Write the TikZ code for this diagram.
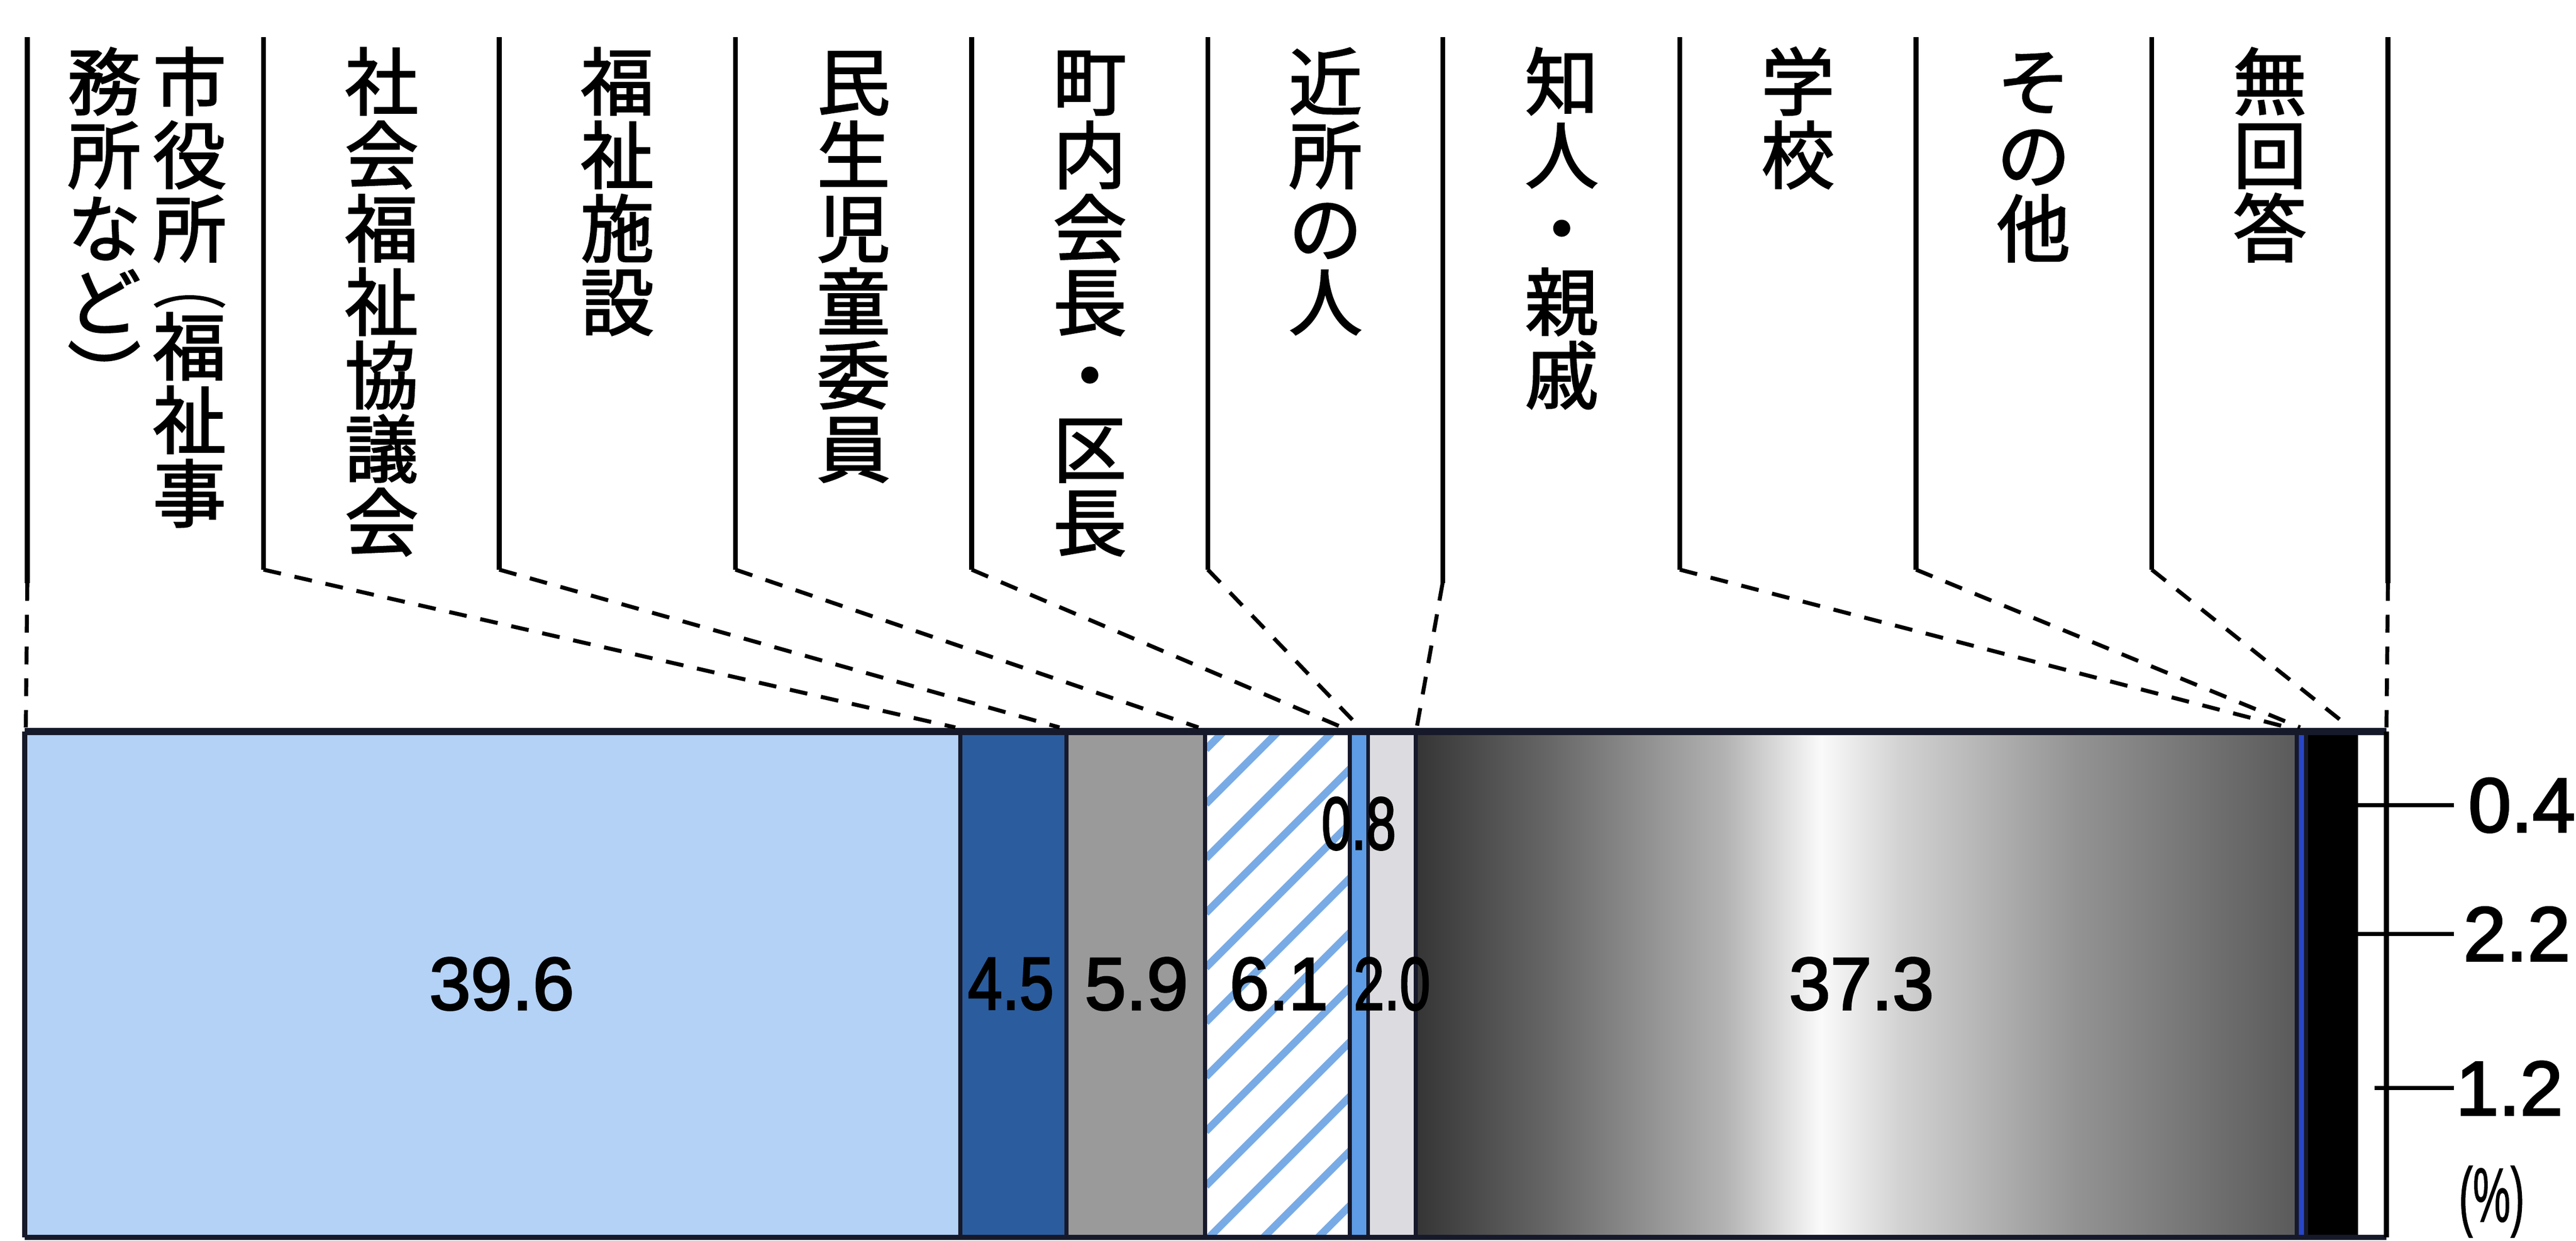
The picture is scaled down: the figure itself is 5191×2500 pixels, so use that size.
\documentclass[tikz,border=0pt]{standalone}
\usepackage{fontspec}
\setmainfont{Liberation Sans}[FakeBold=1.2]
\newfontfamily\numfont{Liberation Sans}[FakeBold=2.5]
\newfontfamily\jp{Noto Sans CJK JP}[FakeBold=2]
\definecolor{lblue}{HTML}{B4D1F6}
\definecolor{dblue}{HTML}{2B5C9D}
\definecolor{mgray}{HTML}{9A9A9A}
\definecolor{hblue}{HTML}{78ABE6}
\definecolor{sblue}{HTML}{5E9DE6}
\definecolor{lgray}{HTML}{DCDCE0}
\definecolor{tblue}{HTML}{2846C8}
\definecolor{edge}{HTML}{16192A}
\definecolor{g0}{HTML}{353535}
\definecolor{g1}{HTML}{666666}
\definecolor{g2}{HTML}{B2B2B2}
\definecolor{g3}{HTML}{FAFAFA}
\definecolor{g4}{HTML}{D2D2D2}
\definecolor{g5}{HTML}{939393}
\definecolor{g6}{HTML}{5A5A5A}
\pgfdeclarehorizontalshading{metal}{100bp}{color(0bp)=(g0); color(25bp)=(g0); color(32.5bp)=(g1); color(42.5bp)=(g2); color(48bp)=(g3); color(52.5bp)=(g4); color(62.5bp)=(g5); color(75bp)=(g6); color(100bp)=(g6)}
\newcommand\ch[1]{\hbox to 15pt{\hss\vrule height 0.88em depth 0.12em width 0pt #1\hss}}
\newcommand\chs[1]{\hbox to 15pt{\hss\vrule height 0.53em depth 0.07em width 0pt \scalebox{1}[0.6]{#1}\hss}}
\newcommand\vstack[1]{\vtop{\baselineskip=14.8pt\lineskiplimit=-30pt\lineskip=0pt #1}}
\begin{document}
\begin{tikzpicture}[x=0.1pt,y=-0.1pt,
  vlab/.style={font={\jp\fontsize{14.8}{14.8}\selectfont}, inner sep=0pt, anchor=north},
  num/.style={font={\numfont\fontsize{15}{15}\selectfont}, inner sep=0pt},
  rnum/.style={font={\numfont\fontsize{15.5}{15.5}\selectfont}, inner sep=0pt, anchor=west},
  leader/.style={line width=0.95pt, black},
  dleader/.style={line width=0.8pt, black, dash pattern=on 3.6pt off 2.8pt},
  segedge/.style={edge, line width=0.8pt},
  tick/.style={line width=0.8pt, black}]
\useasboundingbox (0,0) rectangle (5191,2500);
\fill[white] (0,0) rectangle (5191,2500);
% bar segments
\fill[lblue] (50,1474) rectangle (1935,2494);
\fill[dblue] (1935,1474) rectangle (2149,2494);
\fill[mgray] (2149,1474) rectangle (2430,2494);
\fill[white] (2430,1474) rectangle (2720,2494);
\begin{scope}
\clip (2430,1474) rectangle (2720,2494);
\foreach \k in {0,...,13} \draw[hblue, line width=1.5pt] (2430,1400+\k*110) -- ++(420,-420);
\end{scope}
\fill[sblue] (2720,1474) rectangle (2757,2494);
\fill[lgray] (2757,1474) rectangle (2853,2494);
\shade[shading=metal] (2853,1474) rectangle (4628,2494);
\fill[tblue] (4628,1474) rectangle (4647,2494);
\fill[black] (4647,1474) rectangle (4752,2494);
\fill[white] (4752,1474) rectangle (4809,2494);
% segment edges
\foreach \xx in {1935,2149,2428,2720,2757,2853,4628,4647} \draw[segedge] (\xx,1474) -- (\xx,2494);
\draw[edge, line width=1.4pt] (50,1474) -- (4809,1474);
\draw[edge, line width=1pt] (50,2494) -- (4809,2494);
\draw[edge, line width=1pt] (50,1474) -- (50,2494);
\draw[black, line width=1pt] (4809,1474) -- (4809,2494);
% values
\node[num] (v1) at (1011,1983) {39.6};
\node[num] (v2) at (2037,1983) {\scalebox{0.83}[1]{4.5}};
\node[num] (v3) at (2290,1983) {5.9};
\node[num] (v4) at (2577,1983) {\scalebox{0.95}[1]{6.1}};
\node[num] (v5) at (2738,1660) {\scalebox{0.72}[1]{0.8}};
\node[num] (v6) at (2805,1983) {\scalebox{0.74}[1]{2.0}};
\node[num] (v7) at (3751,1983) {37.3};
% right ticks
\coordinate (k1s) at (4752,1623);
\coordinate (k2s) at (4750,1882);
\coordinate (k3s) at (4785,2193);
\coordinate (k1e) at (4945,1623);
\coordinate (k2e) at (4945,1882);
\coordinate (k3e) at (4945,2193);
\node[rnum] (r1) at (4972,1623) {0.4};
\node[rnum] (r2) at (4962,1882) {2.2};
\node[rnum] (r3) at (4947,2193) {1.2};
\draw[tick] (k1s) -- (k1e);
\draw[tick] (k2s) -- (k2e);
\draw[tick] (k3s) -- (k3e);
\node[font={\fontsize{15.5}{15.5}\selectfont}, inner sep=0pt, anchor=base] (pct) at (5021,2462) {\scalebox{0.55}[1]{(\%)}};
% vertical labels
\node[vlab] (c0a) at (382,88) {\vstack{\ch{市}\ch{役}\ch{所}\kern-5.2pt\chs{︵}\kern-0.6pt\ch{福}\ch{祉}\ch{事}}};
\node[vlab] (c0b) at (210,88) {\vstack{\ch{務}\ch{所}\ch{な}\ch{ど}\ch{︶}}};
\node[vlab] (c1) at (769,88) {\vstack{\ch{社}\ch{会}\ch{福}\ch{祉}\ch{協}\ch{議}\ch{会}}};
\node[vlab] (c2) at (1244,88) {\vstack{\ch{福}\ch{祉}\ch{施}\ch{設}}};
\node[vlab] (c3) at (1720,88) {\vstack{\ch{民}\ch{生}\ch{児}\ch{童}\ch{委}\ch{員}}};
\node[vlab] (c4) at (2196,88) {\vstack{\ch{町}\ch{内}\ch{会}\ch{長}\ch{・}\ch{区}\ch{長}}};
\node[vlab] (c5) at (2671,88) {\vstack{\ch{近}\ch{所}\ch{の}\ch{人}}};
\node[vlab] (c6) at (3147,88) {\vstack{\ch{知}\ch{人}\ch{・}\ch{親}\ch{戚}}};
\node[vlab] (c7) at (3623,88) {\vstack{\ch{学}\ch{校}}};
\node[vlab] (c8) at (4098,88) {\vstack{\ch{そ}\ch{の}\ch{他}}};
\node[vlab] (c9) at (4574,88) {\vstack{\ch{無}\ch{回}\ch{答}}};
% leader lines
\foreach \i/\lx/\by/\ex in {0/55/1175/52, 1/531/1148/1925, 2/1006/1148/2135, 3/1482/1148/2415, 4/1958/1148/2705, 5/2434/1148/2740, 6/2907/1175/2855, 7/3385/1148/4610, 8/3861/1148/4635, 9/4336/1148/4735, 10/4812/1175/4809} {
  \coordinate (top\i) at (\lx,75);
  \coordinate (bend\i) at (\lx,\by);
  \coordinate (end\i) at (\ex,1466);
  \draw[leader] (top\i) -- (bend\i);
  \draw[dleader] (bend\i) -- (end\i);
}
\end{tikzpicture}
\end{document}
